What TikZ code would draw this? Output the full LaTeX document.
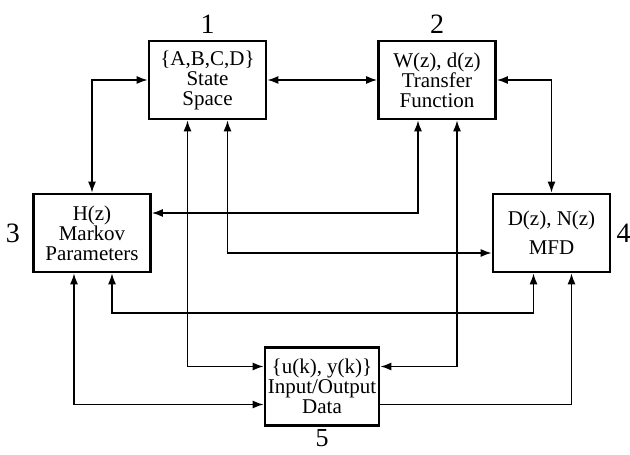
\documentclass[tikz,border=0pt]{standalone}
\usepackage{fontspec}
\setmainfont{Liberation Serif}
\usetikzlibrary{arrows.meta,positioning}

\begin{document}
\begin{tikzpicture}[x=5pt, y=5pt,
    blk/.style={draw, line width=1.3pt, minimum width=58.5pt, minimum height=39pt,
        inner sep=1pt, align=center, font=\fontsize{10.5}{10}\selectfont},
    num/.style={font=\fontsize{14}{14}\selectfont, inner sep=0pt},
    link/.style={line width=0.8pt, {Latex[length=5.5pt,width=4pt]}-{Latex[length=5.5pt,width=4pt]}},
    onelink/.style={line width=0.8pt, -{Latex[length=5.5pt,width=4pt]}}]
    \useasboundingbox (0,0) rectangle (63,45.4);

    % Blocks
    \node[blk] (ss) at (20.75,37.4) {\{A,B,C,D\}\\State\\Space};
    \node[blk] (tf) at (43.7,37.4) {W(z), d(z)\\Transfer\\Function};
    \node[blk] (mk) at (9.2,22.1) {H(z)\\Markov\\Parameters};
    \node[blk] (mfd) at (55.15,22.1) {D(z), N(z)\\[4.5pt]MFD};
    \node[blk, minimum width=57pt] (io) at (32.2,6.75) {\{u(k), y(k)\}\\Input/Output\\Data};

    % Numbers
    \node[num, above=3pt of ss] (n1) {1};
    \node[num, above=3pt of tf] (n2) {2};
    \node[num, left=6pt of mk] (n3) {3};
    \node[num, right=2.5pt of mfd] (n4) {4};
    \node[num, font=\fontsize{13}{13}\selectfont, below=1pt of io] (n5) {5};

    % Links between blocks
    \draw[link] (mk.north) |- (ss.west);
    \draw[link] (ss.east) -- (tf.west);
    \draw[link] (tf.east) -| (mfd.north);
    \draw[link] ([xshift=-9.5pt]tf.south) |- ([yshift=10pt]mk.east);
    \draw[link] ([xshift=10pt]ss.south) |- ([yshift=-10pt]mfd.west);
    \draw[link] ([xshift=-10pt]ss.south) |- ([yshift=10pt]io.west);
    \draw[link] ([xshift=10pt]tf.south) |- ([yshift=10pt]io.east);
    \draw[link] ([xshift=10pt]mk.south) -- ++(0,-4) -| ([xshift=-9pt]mfd.south);
    \draw[link] ([xshift=-9pt]mk.south) |- ([yshift=-9pt]io.west);
    \draw[onelink] ([yshift=-9pt]io.east) -| ([xshift=10pt]mfd.south);
\end{tikzpicture}
\end{document}
